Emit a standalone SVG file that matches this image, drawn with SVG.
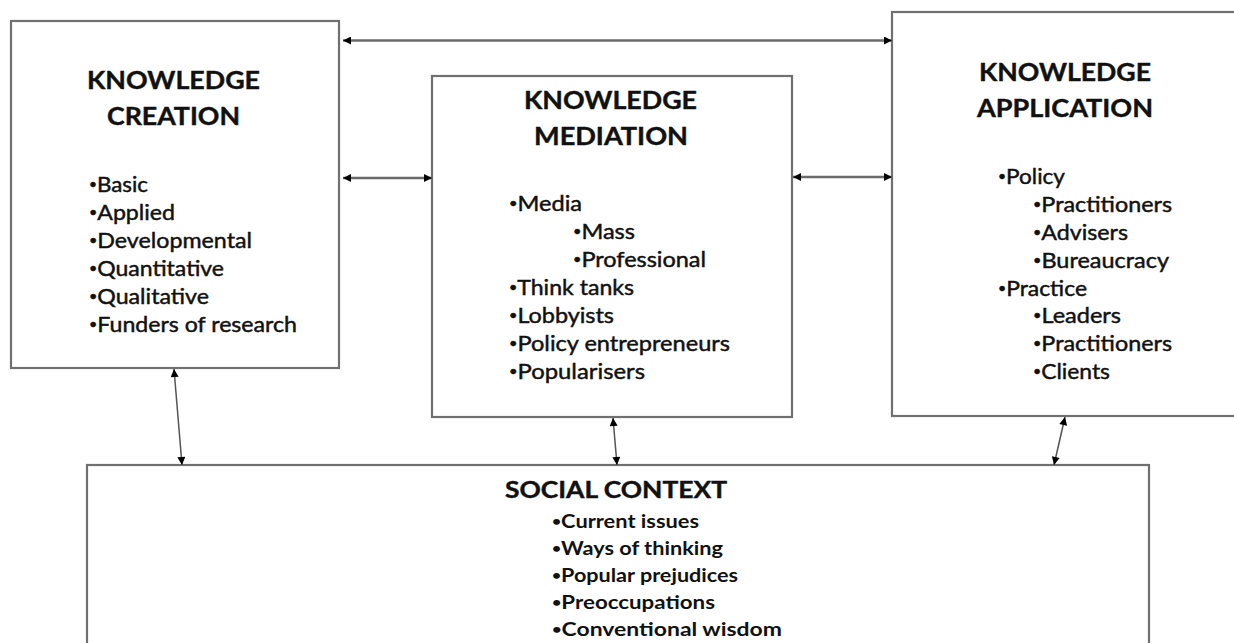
<svg xmlns="http://www.w3.org/2000/svg" width="1234" height="643" viewBox="0 0 1234 643">
<style>
.box{fill:#fff;stroke:#707070;stroke-width:2.2}
.title{font-family:Lato,"Liberation Sans",sans-serif;font-weight:bold;font-size:24px;fill:#111;stroke:#111;stroke-width:0.4}
.item{font-family:Lato,"Liberation Sans",sans-serif;font-size:21px;fill:#111;stroke:#111;stroke-width:0.45}
.sitem{font-family:Lato,"Liberation Sans",sans-serif;font-weight:bold;font-size:18px;fill:#111}
.b{font-size:13px}
.conn{fill:none;stroke:#6a6a6a;stroke-width:2.5;marker-start:url(#ah);marker-end:url(#ah)}
.vconn{fill:none;stroke:#555;stroke-width:1.5;marker-start:url(#ah);marker-end:url(#ah)}
</style>
<defs>
<marker id="ah" viewBox="0 0 10 10" refX="10" refY="5" markerWidth="9" markerHeight="8" markerUnits="userSpaceOnUse" orient="auto-start-reverse">
<path d="M0,0 L10,5 L0,10 z" fill="#000"/>
</marker>
</defs>
<rect width="1234" height="643" fill="#fff"/>
<g id="creation">
<rect class="box" x="11" y="21" width="328" height="347"/>
<text class="title" x="87" y="89" textLength="173" lengthAdjust="spacingAndGlyphs">KNOWLEDGE</text>
<text class="title" x="107" y="125" textLength="133" lengthAdjust="spacingAndGlyphs">CREATION</text>
<text class="item" x="89" y="192" textLength="59" lengthAdjust="spacingAndGlyphs"><tspan class="b" dy="-3">•</tspan><tspan dy="3">Basic</tspan></text>
<text class="item" x="89" y="220" textLength="86" lengthAdjust="spacingAndGlyphs"><tspan class="b" dy="-3">•</tspan><tspan dy="3">Applied</tspan></text>
<text class="item" x="89" y="248" textLength="163" lengthAdjust="spacingAndGlyphs"><tspan class="b" dy="-3">•</tspan><tspan dy="3">Developmental</tspan></text>
<text class="item" x="89" y="276" textLength="135" lengthAdjust="spacingAndGlyphs"><tspan class="b" dy="-3">•</tspan><tspan dy="3">Quantitative</tspan></text>
<text class="item" x="89" y="304" textLength="120" lengthAdjust="spacingAndGlyphs"><tspan class="b" dy="-3">•</tspan><tspan dy="3">Qualitative</tspan></text>
<text class="item" x="89" y="332" textLength="208" lengthAdjust="spacingAndGlyphs"><tspan class="b" dy="-3">•</tspan><tspan dy="3">Funders of research</tspan></text>
</g>
<g id="mediation">
<rect class="box" x="432" y="76" width="360" height="341"/>
<text class="title" x="524" y="109" textLength="173" lengthAdjust="spacingAndGlyphs">KNOWLEDGE</text>
<text class="title" x="534" y="145" textLength="154" lengthAdjust="spacingAndGlyphs">MEDIATION</text>
<text class="item" x="509" y="211" textLength="73" lengthAdjust="spacingAndGlyphs"><tspan class="b" dy="-3">•</tspan><tspan dy="3">Media</tspan></text>
<text class="item" x="573" y="239" textLength="62" lengthAdjust="spacingAndGlyphs"><tspan class="b" dy="-3">•</tspan><tspan dy="3">Mass</tspan></text>
<text class="item" x="573" y="267" textLength="133" lengthAdjust="spacingAndGlyphs"><tspan class="b" dy="-3">•</tspan><tspan dy="3">Professional</tspan></text>
<text class="item" x="509" y="295" textLength="125" lengthAdjust="spacingAndGlyphs"><tspan class="b" dy="-3">•</tspan><tspan dy="3">Think tanks</tspan></text>
<text class="item" x="509" y="323" textLength="105" lengthAdjust="spacingAndGlyphs"><tspan class="b" dy="-3">•</tspan><tspan dy="3">Lobbyists</tspan></text>
<text class="item" x="509" y="351" textLength="221" lengthAdjust="spacingAndGlyphs"><tspan class="b" dy="-3">•</tspan><tspan dy="3">Policy entrepreneurs</tspan></text>
<text class="item" x="509" y="379" textLength="136" lengthAdjust="spacingAndGlyphs"><tspan class="b" dy="-3">•</tspan><tspan dy="3">Popularisers</tspan></text>
</g>
<g id="application">
<rect class="box" x="892" y="12" width="360" height="404"/>
<text class="title" x="979" y="81" textLength="172" lengthAdjust="spacingAndGlyphs">KNOWLEDGE</text>
<text class="title" x="977" y="117" textLength="176" lengthAdjust="spacingAndGlyphs">APPLICATION</text>
<text class="item" x="998" y="184" textLength="67" lengthAdjust="spacingAndGlyphs"><tspan class="b" dy="-3">•</tspan><tspan dy="3">Policy</tspan></text>
<text class="item" x="1033" y="212" textLength="139" lengthAdjust="spacingAndGlyphs"><tspan class="b" dy="-3">•</tspan><tspan dy="3">Practitioners</tspan></text>
<text class="item" x="1033" y="240" textLength="95" lengthAdjust="spacingAndGlyphs"><tspan class="b" dy="-3">•</tspan><tspan dy="3">Advisers</tspan></text>
<text class="item" x="1033" y="268" textLength="136" lengthAdjust="spacingAndGlyphs"><tspan class="b" dy="-3">•</tspan><tspan dy="3">Bureaucracy</tspan></text>
<text class="item" x="998" y="296" textLength="89" lengthAdjust="spacingAndGlyphs"><tspan class="b" dy="-3">•</tspan><tspan dy="3">Practice</tspan></text>
<text class="item" x="1033" y="323" textLength="88" lengthAdjust="spacingAndGlyphs"><tspan class="b" dy="-3">•</tspan><tspan dy="3">Leaders</tspan></text>
<text class="item" x="1033" y="351" textLength="139" lengthAdjust="spacingAndGlyphs"><tspan class="b" dy="-3">•</tspan><tspan dy="3">Practitioners</tspan></text>
<text class="item" x="1033" y="379" textLength="77" lengthAdjust="spacingAndGlyphs"><tspan class="b" dy="-3">•</tspan><tspan dy="3">Clients</tspan></text>
</g>
<g id="social">
<rect class="box" x="87" y="465" width="1062" height="200"/>
<text class="title" style="font-size:22px" x="505" y="498" textLength="222" lengthAdjust="spacingAndGlyphs">SOCIAL CONTEXT</text>
<text class="sitem" x="552" y="528" textLength="147" lengthAdjust="spacingAndGlyphs"><tspan class="b" dy="-2">•</tspan><tspan dy="2">Current issues</tspan></text>
<text class="sitem" x="552" y="555" textLength="171" lengthAdjust="spacingAndGlyphs"><tspan class="b" dy="-2">•</tspan><tspan dy="2">Ways of thinking</tspan></text>
<text class="sitem" x="552" y="582" textLength="186" lengthAdjust="spacingAndGlyphs"><tspan class="b" dy="-2">•</tspan><tspan dy="2">Popular prejudices</tspan></text>
<text class="sitem" x="552" y="609" textLength="163" lengthAdjust="spacingAndGlyphs"><tspan class="b" dy="-2">•</tspan><tspan dy="2">Preoccupations</tspan></text>
<text class="sitem" x="552" y="636" textLength="230" lengthAdjust="spacingAndGlyphs"><tspan class="b" dy="-2">•</tspan><tspan dy="2">Conventional wisdom</tspan></text>
</g>
<g id="connectors">
<line class="conn" x1="343" y1="40.5" x2="892" y2="40.5"/>
<line class="conn" x1="343" y1="178" x2="432" y2="178"/>
<line class="conn" x1="793" y1="177" x2="892" y2="177"/>
<line class="vconn" x1="174" y1="369" x2="182" y2="465"/>
<line class="vconn" x1="613" y1="418" x2="617" y2="465"/>
<line class="vconn" x1="1065" y1="417" x2="1054" y2="465"/>
</g>
</svg>
